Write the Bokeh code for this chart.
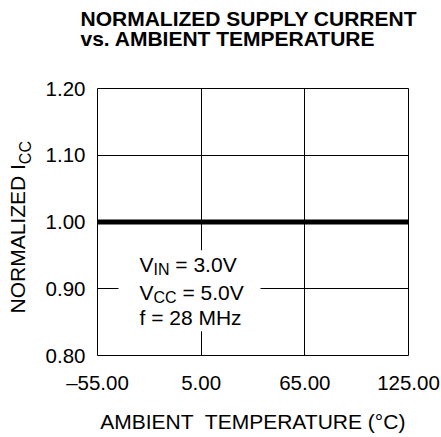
from bokeh.plotting import figure
from bokeh.models import FixedTicker, Label, BoxAnnotation, Range1d, Title
from bokeh.embed import file_html
from bokeh.resources import INLINE

# ---- data ----
temperature = [-55, 5, 65, 125]
normalized_icc = [1.0, 1.0, 1.0, 1.0]
x_ticks = [-55, 5, 65, 125]
x_tick_labels = ["\u201355.00", "5.00", "65.00", "125.00"]
y_ticks = [0.80, 0.90, 1.00, 1.10, 1.20]
y_tick_labels = ["0.80", "0.90", "1.00", "1.10", "1.20"]

FONT = "Liberation Sans"
F_MAIN = 21
F_SUB = 16
F_TICK = 20.5

W = {'V': .667, 'I': .278, 'N': .722, 'C': .722, ' ': .278, 'O': .778, 'R': .722,
     'M': .833, 'A': .667, 'L': .556, 'Z': .611, 'E': .667, 'D': .722}


def width(s, size):
    return sum(W.get(c, .556) for c in s) * size


p = figure(frame_width=311, frame_height=267,
           x_range=Range1d(-55, 125), y_range=Range1d(0.80, 1.20),
           output_backend="svg", toolbar_location=None, title_location=None,
           min_border_left=97, min_border_right=33, min_border_top=88, min_border_bottom=82)

p.outline_line_color = "black"
p.background_fill_color = "white"
p.border_fill_color = "white"

for ax, ticks, labels in ((p.xaxis[0], x_ticks, x_tick_labels), (p.yaxis[0], y_ticks, y_tick_labels)):
    ax.ticker = FixedTicker(ticks=ticks)
    ax.major_label_overrides = {t: l for t, l in zip(ticks, labels)}
    ax.major_tick_line_color = None
    ax.minor_tick_line_color = None
    ax.major_tick_in = 0
    ax.major_tick_out = 0
    ax.axis_line_color = None
    ax.major_label_text_font = FONT
    ax.major_label_text_font_size = f"{F_TICK}px"
    ax.major_label_text_color = "black"
p.xaxis.major_label_standoff = 15
p.yaxis.major_label_standoff = 12

p.xaxis.axis_label = "AMBIENT\u00a0 TEMPERATURE (\u00b0C)"
p.xaxis.axis_label_text_font = FONT
p.xaxis.axis_label_text_font_size = f"{F_MAIN}px"
p.xaxis.axis_label_text_font_style = "normal"
p.xaxis.axis_label_text_color = "black"
p.xaxis.axis_label_standoff = 13

p.xgrid.ticker = FixedTicker(ticks=x_ticks)
p.ygrid.ticker = FixedTicker(ticks=y_ticks)
for g in (p.xgrid[0], p.ygrid[0]):
    g.grid_line_color = "black"
    g.grid_line_alpha = 1

p.line(temperature, normalized_icc, line_color="black", line_width=5, line_cap="square")

p.add_layout(BoxAnnotation(left=-42.85, right=39.35, bottom=0.8364, top=0.9577,
                           fill_color="white", fill_alpha=1, line_color=None))


def title(text, place, size, bold=False, offset=0, standoff=0, lh=1.0):
    p.add_layout(Title(text=text, align="left", offset=offset, standoff=standoff,
                       text_font=FONT, text_font_size=f"{size}px",
                       text_font_style="bold" if bold else "normal",
                       text_line_height=lh, text_color="black"), place)


# spacer between the frame and the two-line title
title("\u00a0", "above", 1, standoff=35)
title("NORMALIZED SUPPLY CURRENT\nvs. AMBIENT TEMPERATURE", "above", F_MAIN,
      bold=True, offset=-17, standoff=0, lh=0.91)

y0 = 42
title("CC", "left", F_SUB, offset=y0 + width("NORMALIZED I", F_MAIN), standoff=17)
title("NORMALIZED I", "left", F_MAIN, offset=y0, standoff=-44)


def lab(text, x, y, size):
    p.add_layout(Label(x=x, y=y, x_units="screen", y_units="screen", text=text,
                       text_font=FONT, text_font_size=f"{size}px",
                       text_color="black", text_align="left", text_baseline="alphabetic"))


tx = 42
sub_drop = 5
lines = [("V", "IN", "= 3.0V", 91), ("V", "CC", "= 5.0V", 63.5)]
for main, sub, rest, by in lines:
    lab(main, tx, by, F_MAIN)
    sx = tx + width(main, F_MAIN)
    lab(sub, sx, by - sub_drop, F_SUB)
    lab(rest, sx + width(sub, F_SUB) + width(" ", F_MAIN), by, F_MAIN)
lab("f = 28 MHz", tx, 38.5, F_MAIN)

open("out.html", "w").write(file_html(p, INLINE))
